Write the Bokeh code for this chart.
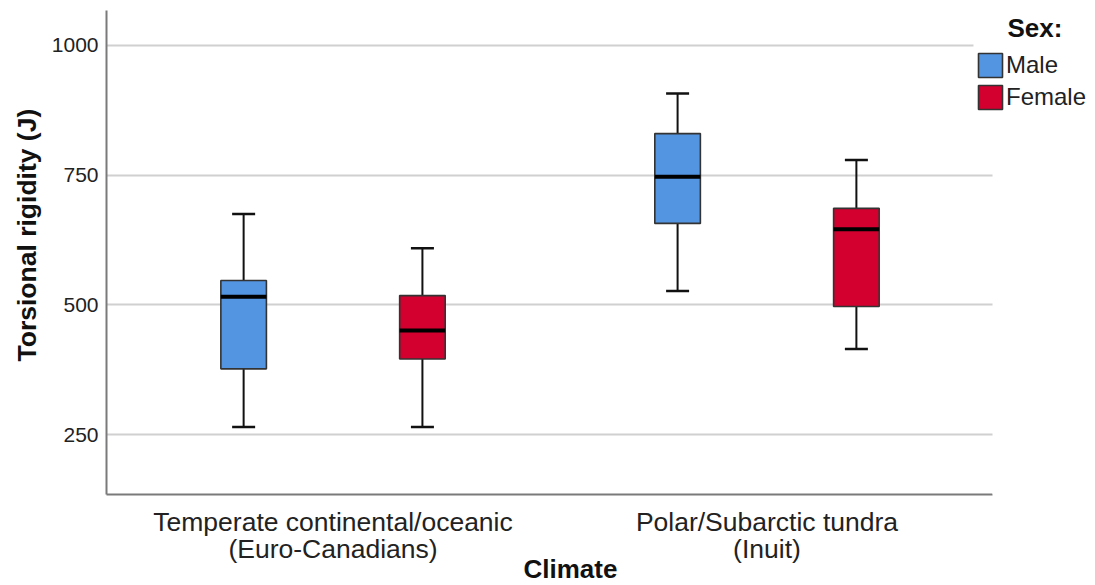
from bokeh.plotting import figure
from bokeh.models import FixedTicker, Label, Legend, LegendItem, Range1d, Title, BoxAnnotation
from bokeh.embed import file_html
from bokeh.resources import INLINE

# ---- data ----
climates = ["Temperate continental/oceanic\n(Euro-Canadians)", "Polar/Subarctic tundra\n(Inuit)"]
sexes = ["Male", "Female"]

male_min = [265, 527]
male_q1 = [377, 657]
male_median = [516, 747]
male_q3 = [547, 830]
male_max = [675, 907]

female_min = [265, 415]
female_q1 = [396, 497]
female_median = [451, 646]
female_q3 = [518, 686]
female_max = [609, 779]

y_ticks = [250, 500, 750, 1000]

# ---- styling ----
FONT = "Liberation Sans"
sex_colors = ["#5495E1", "#D3002F"]
sex_offsets = [-0.206, 0.206]
box_w = 0.105
cap_w = 0.053
X_START, X_END = -0.522, 1.757
AXIS_END = 1.5196      # where the x axis line and gridlines stop
LEGEND_LEFT = 1.4758

p = figure(width=1095, height=585, output_backend="svg", toolbar_location=None,
           x_range=Range1d(X_START, X_END), y_range=Range1d(135, 1067),
           min_border_left=106, min_border_right=0, min_border_top=10,
           min_border_bottom=91)
p.outline_line_color = None
p.background_fill_color = "white"
p.border_fill_color = "white"

stats = {
    "Male": (male_min, male_q1, male_median, male_q3, male_max),
    "Female": (female_min, female_q1, female_median, female_q3, female_max),
}

legend_items = []
for s_idx, sex in enumerate(sexes):
    mn, q1, med, q3, mx = stats[sex]
    xs = [i + sex_offsets[s_idx] for i in range(len(climates))]
    p.segment(x0=xs, y0=q3, x1=xs, y1=mx, line_color="#111111", line_width=2)
    p.segment(x0=xs, y0=q1, x1=xs, y1=mn, line_color="#111111", line_width=2)
    r = p.vbar(x=xs, top=q3, bottom=q1, width=box_w, fill_color=sex_colors[s_idx],
               line_color="#333333", line_width=1.6)
    legend_items.append(LegendItem(label=sex, renderers=[r]))
    p.segment(x0=[x - box_w / 2 for x in xs], y0=med, x1=[x + box_w / 2 for x in xs], y1=med,
              line_color="#000000", line_width=4)
    p.segment(x0=[x - cap_w / 2 for x in xs], y0=mx, x1=[x + cap_w / 2 for x in xs], y1=mx,
              line_color="#111111", line_width=2.5)
    p.segment(x0=[x - cap_w / 2 for x in xs], y0=mn, x1=[x + cap_w / 2 for x in xs], y1=mn,
              line_color="#111111", line_width=2.5)

# axes
p.xaxis.ticker = FixedTicker(ticks=list(range(len(climates))))
p.xaxis.major_label_overrides = {i: c for i, c in enumerate(climates)}
p.xaxis.bounds = (X_START, AXIS_END)
p.yaxis.ticker = FixedTicker(ticks=y_ticks)
for ax in (p.xaxis, p.yaxis):
    ax.axis_line_color = "#7a7a7a"
    ax.axis_line_width = 2
    ax.major_tick_out = 0
    ax.major_tick_in = 0
    ax.minor_tick_out = 0
    ax.minor_tick_in = 0
    ax.major_label_text_font = FONT
    ax.major_label_text_color = "#222222"
p.yaxis.major_label_text_font_size = "21px"
p.yaxis.major_label_standoff = 8
p.xaxis.major_label_text_font_size = "26.5px"
p.xaxis.major_label_text_line_height = 0.9
p.xaxis.major_label_standoff = 12

p.xgrid.grid_line_color = None
p.ygrid.ticker = FixedTicker(ticks=y_ticks)
p.ygrid.grid_line_color = "#d0d0d0"
p.ygrid.grid_line_width = 2

# hide gridlines right of the axis end
p.add_layout(BoxAnnotation(left=AXIS_END, fill_color="white", fill_alpha=1.0, line_color=None))
p.add_layout(BoxAnnotation(left=LEGEND_LEFT, bottom=985, fill_color="white", fill_alpha=1.0,
                           line_color=None))

# axis titles
p.add_layout(Title(text="Climate", align="left", offset=417, text_font=FONT,
                   text_font_size="26px", text_font_style="bold", text_color="#111111",
                   standoff=-30), "below")
p.add_layout(Title(text="Torsional rigidity (J)", align="left", offset=133, text_font=FONT,
                   text_font_size="26.5px", text_font_style="bold", text_color="#111111",
                   standoff=13), "left")

# legend
legend = Legend(items=legend_items, location=(869, 382), border_line_color=None,
                background_fill_color="white", background_fill_alpha=1.0,
                label_text_font=FONT, label_text_font_size="24px", label_text_color="#222222",
                glyph_width=30, glyph_height=30, label_height=30, spacing=2,
                padding=3, margin=0, label_standoff=1)
p.add_layout(legend)
p.add_layout(Label(x=1.6175, y=1033, text="Sex:", text_font=FONT, text_font_size="26px",
                   text_font_style="bold", text_align="center", text_baseline="middle",
                   text_color="#111111"))

open("out.html", "w").write(file_html(p, INLINE))
